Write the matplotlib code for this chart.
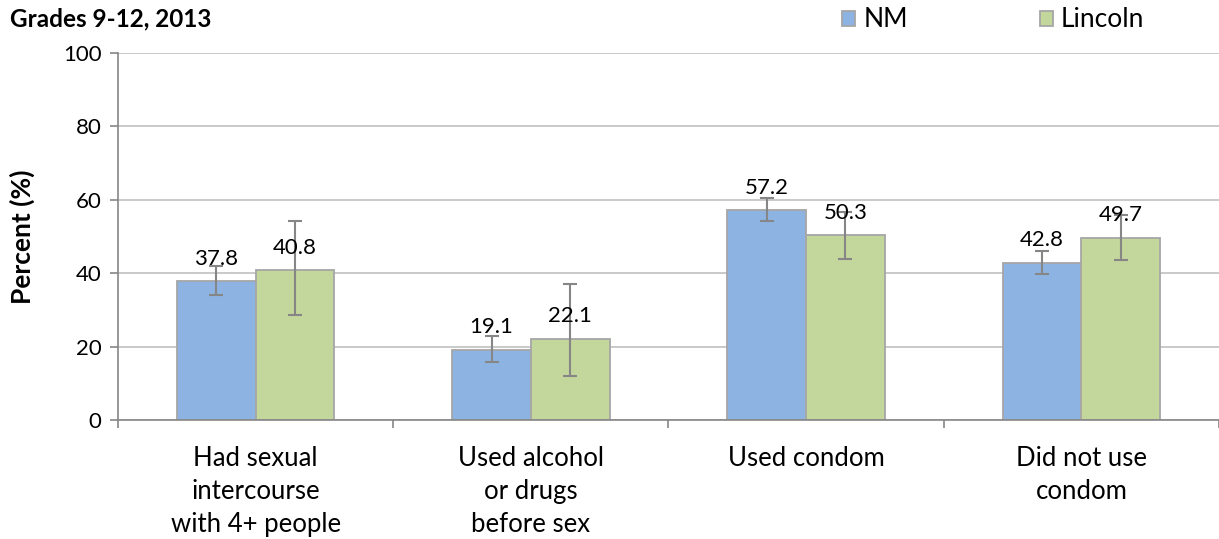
import numpy as np
import matplotlib.pyplot as plt
from matplotlib.ticker import FixedLocator

plt.rcParams['font.family'] = ['Lato', 'DejaVu Sans']

categories = ['Had sexual\nintercourse\nwith 4+ people', 'Used alcohol\nor drugs\nbefore sex',
              'Used condom', 'Did not use\ncondom']
nm = [37.8, 19.1, 57.2, 42.8]
lincoln = [40.8, 22.1, 50.3, 49.7]
nm_low = [34.0, 15.8, 54.1, 39.8]
nm_high = [42.0, 23.0, 60.4, 46.1]
lin_low = [28.7, 12.1, 44.0, 43.5]
lin_high = [54.3, 37.1, 56.6, 55.9]

blue = '#8db3e2'
green = '#c3d69b'
edge = '#a6a6a6'
grey = '#868686'

fig = plt.figure(figsize=(12.19, 5.39), dpi=100)
ax = fig.add_axes([0.0968, 0.2208, 0.9032, 0.6809])

x = np.arange(len(categories))
w = 0.286

def draw(offset, vals, lo, hi, color, label):
    err = [np.array(vals) - np.array(lo), np.array(hi) - np.array(vals)]
    bars = ax.bar(x + offset, vals, w, color=color, edgecolor=edge, linewidth=1.3,
                  label=label, zorder=2)
    ax.errorbar(x + offset, vals, yerr=err, fmt='none', ecolor=grey, elinewidth=1.5,
                capsize=5, capthick=1.5, zorder=3)
    for b, v in zip(bars, vals):
        ax.annotate(f'{v:.1f}', (b.get_x() + b.get_width() / 2, v), xytext=(0, 9),
                    textcoords='offset points', ha='center', va='bottom', fontsize=16, zorder=4)

draw(-w / 2, nm, nm_low, nm_high, blue, 'NM')
draw(w / 2, lincoln, lin_low, lin_high, green, 'Lincoln')

ax.set_xlim(-0.5, 3.5)
ax.set_ylim(0, 100)
ax.set_yticks([0, 20, 40, 60, 80, 100])
ax.yaxis.grid(True, color='#c0c0c0', linewidth=1.2, zorder=0)
ax.set_axisbelow(True)

ax.set_xticks(x)
ax.set_xticklabels(categories, fontsize=18.5, linespacing=1.38)
ax.tick_params(axis='x', which='major', length=0, pad=19)
ax.xaxis.set_minor_locator(FixedLocator([-0.5, 0.5, 1.5, 2.5, 3.5]))
ax.tick_params(axis='x', which='minor', length=6, color=grey, width=1.2)
ax.tick_params(axis='y', length=6, color=grey, width=1.2, labelsize=16, pad=6)

for s in ['top', 'right']:
    ax.spines[s].set_visible(False)
for s in ['left', 'bottom']:
    ax.spines[s].set_color(grey)
    ax.spines[s].set_linewidth(1.2)

ax.set_ylabel('Percent (%)', fontsize=19, fontweight='bold', labelpad=20)
fig.text(0.008, 0.965, 'Grades 9-12, 2013', fontsize=17.5, fontweight='bold', va='center')

ax.legend(loc='center', bbox_to_anchor=(0.795, 1.09), ncol=2, frameon=False, fontsize=19,
          handlelength=0.5, handleheight=0.5, columnspacing=5.0, handletextpad=0.3)

fig.savefig('out.png', dpi=100)
